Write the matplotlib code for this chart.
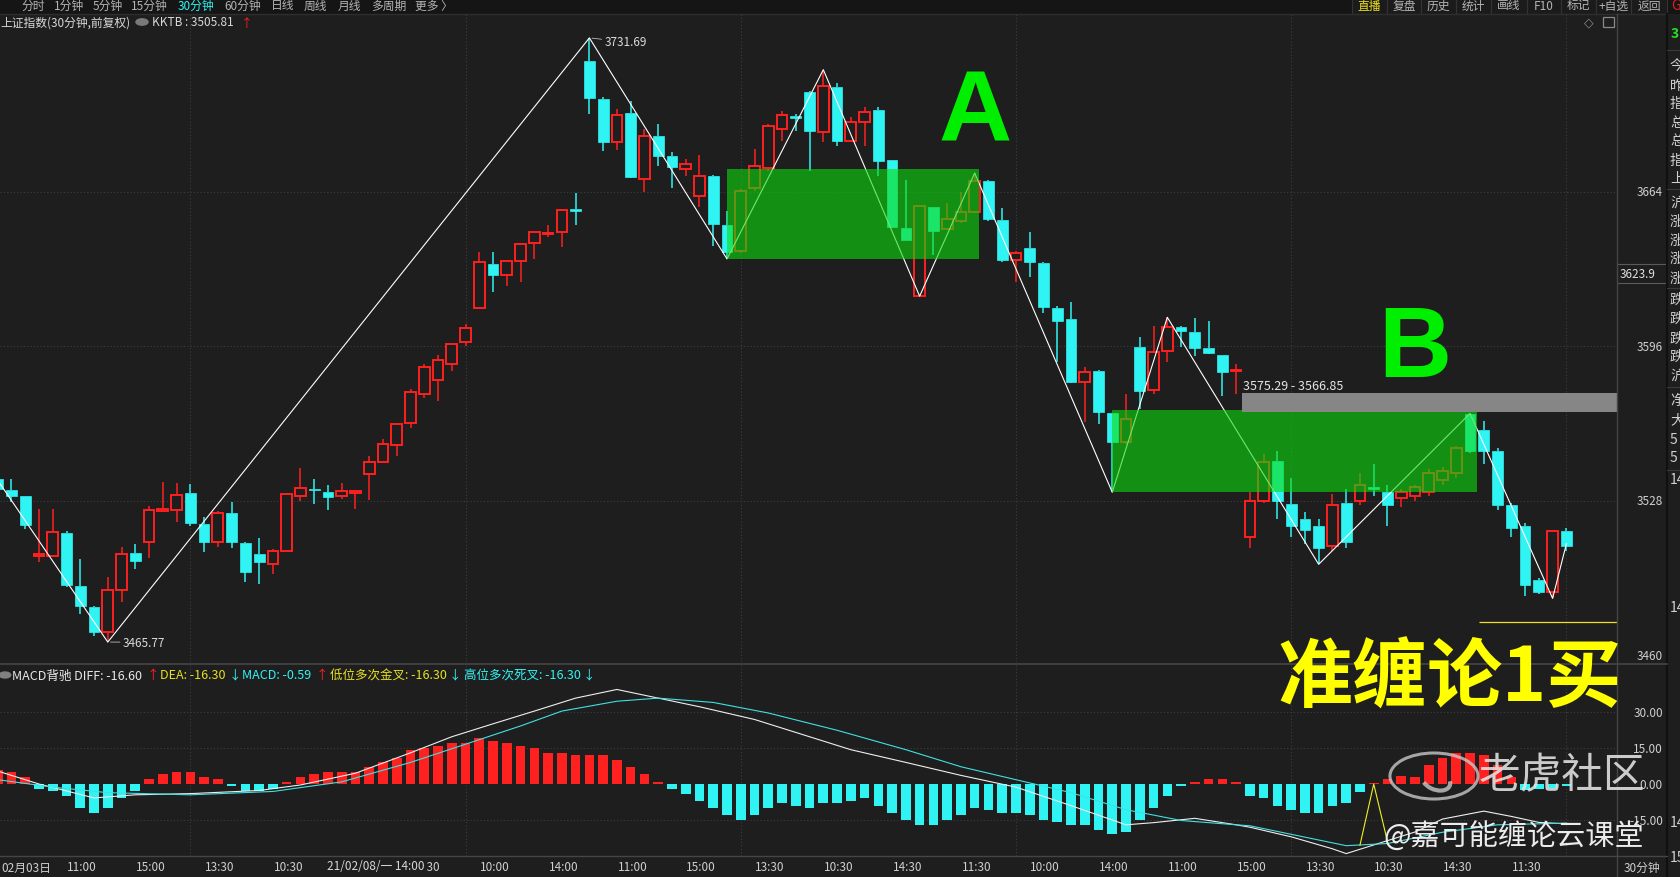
import matplotlib
matplotlib.use('Agg')
import matplotlib.pyplot as plt
from matplotlib import font_manager
from matplotlib.patches import Rectangle, Circle, Arc
from matplotlib.lines import Line2D
from matplotlib.transforms import blended_transform_factory

plt.rcParams['font.family'] = ['Noto Sans CJK SC', 'DejaVu Sans']

# 30-minute bars
opens = [3537.6, 3532.9, 3529.9, 3503.5, 3503.8, 3513.8, 3490.6, 3481.1, 3470.1, 3488.8,
         3505.0, 3509.7, 3523.6, 3524.1, 3531.4, 3517.8, 3510.0, 3522.6, 3509.4, 3504.5,
         3500.1, 3506.0, 3530.2, 3533.0, 3532.0, 3529.9, 3531.6, 3539.8, 3544.9, 3552.5,
         3562.0, 3575.0, 3581.0, 3588.0, 3597.7, 3612.7, 3632.2, 3627.3, 3633.6, 3641.4,
         3645.5, 3646.1, 3656.2, 3721.7, 3704.8, 3686.0, 3698.6, 3669.6, 3688.4, 3679.6,
         3674.0, 3662.3, 3671.0, 3649.3, 3638.0, 3665.5, 3674.3, 3691.6, 3697.5, 3708.0,
         3690.4, 3710.2, 3686.5, 3694.8, 3700.0, 3678.0, 3647.9, 3618.0, 3657.1, 3647.6,
         3651.2, 3655.2, 3668.8, 3651.7, 3634.1, 3639.0, 3632.5, 3612.8, 3608.0, 3580.4,
         3585.2, 3566.6, 3554.0, 3595.5, 3576.9, 3594.0, 3604.3, 3602.1, 3595.1, 3592.1,
         3585.0, 3512.0, 3528.0, 3545.6, 3526.5, 3520.0, 3517.0, 3508.0, 3527.0, 3528.0,
         3534.0, 3532.0, 3529.0, 3530.0, 3532.0, 3537.0, 3540.0, 3566.0, 3559.0, 3550.0,
         3526.0, 3517.0, 3493.0, 3488.0, 3514.7]
highs = [3538.5, 3537.6, 3530.2, 3524.4, 3524.4, 3514.8, 3502.3, 3481.5, 3494.3, 3507.5,
         3508.9, 3525.8, 3536.1, 3535.7, 3535.4, 3520.7, 3523.6, 3527.3, 3509.8, 3511.4,
         3506.7, 3531.2, 3542.3, 3537.6, 3534.9, 3535.8, 3532.5, 3547.8, 3555.2, 3562.0,
         3577.0, 3588.0, 3592.0, 3597.5, 3605.8, 3637.6, 3637.6, 3634.0, 3641.5, 3646.8,
         3649.3, 3656.0, 3663.4, 3731.69, 3705.5, 3700.4, 3704.0, 3691.6, 3693.8, 3681.3,
         3678.4, 3680.1, 3671.2, 3655.3, 3665.0, 3682.8, 3693.8, 3699.7, 3698.0, 3708.2,
         3717.7, 3711.8, 3696.7, 3701.1, 3701.1, 3678.0, 3669.3, 3658.0, 3657.3, 3659.0,
         3664.0, 3672.2, 3669.0, 3656.7, 3638.0, 3646.1, 3633.0, 3613.9, 3615.3, 3586.7,
         3585.5, 3566.8, 3575.0, 3599.9, 3605.0, 3608.7, 3605.0, 3608.3, 3607.2, 3592.3,
         3588.2, 3531.7, 3548.6, 3550.0, 3537.9, 3523.0, 3520.0, 3531.0, 3533.0, 3540.0,
         3544.0, 3535.0, 3533.0, 3535.0, 3542.0, 3543.0, 3552.0, 3566.4, 3563.0, 3551.0,
         3527.0, 3518.0, 3494.0, 3515.0, 3516.0]
lows = [3530.0, 3527.3, 3515.5, 3500.9, 3503.5, 3489.9, 3478.1, 3468.3, 3465.77, 3483.3,
        3497.9, 3502.6, 3523.5, 3518.8, 3516.7, 3505.3, 3507.5, 3507.0, 3492.4, 3491.3,
        3495.7, 3505.8, 3528.0, 3526.6, 3524.0, 3528.8, 3524.4, 3528.5, 3544.5, 3547.8,
        3560.0, 3573.0, 3572.0, 3585.0, 3596.0, 3612.5, 3619.7, 3622.6, 3624.4, 3634.4,
        3643.9, 3639.5, 3649.3, 3698.2, 3682.0, 3682.5, 3669.9, 3664.0, 3675.2, 3665.5,
        3671.0, 3657.1, 3640.0, 3634.4, 3637.0, 3664.5, 3673.0, 3686.5, 3690.9, 3673.3,
        3685.7, 3684.3, 3686.0, 3684.0, 3670.8, 3648.0, 3642.9, 3618.0, 3636.1, 3647.0,
        3650.0, 3655.0, 3651.0, 3633.2, 3624.1, 3626.3, 3610.6, 3588.9, 3580.0, 3562.5,
        3561.8, 3531.7, 3553.0, 3568.4, 3575.0, 3588.9, 3595.5, 3591.5, 3592.5, 3574.2,
        3574.9, 3507.0, 3527.0, 3520.0, 3512.0, 3509.0, 3500.0, 3506.0, 3507.0, 3526.0,
        3530.0, 3517.0, 3525.0, 3528.0, 3530.0, 3535.0, 3538.0, 3549.0, 3544.0, 3524.0,
        3512.0, 3486.0, 3487.0, 3485.0, 3506.0]
closes = [3533.2, 3530.2, 3517.3, 3504.5, 3514.1, 3490.9, 3481.5, 3470.1, 3488.8, 3504.5,
          3501.6, 3524.1, 3524.5, 3530.5, 3518.2, 3510.0, 3522.6, 3509.7, 3496.5, 3501.2,
          3506.0, 3531.0, 3533.4, 3532.5, 3529.8, 3532.4, 3532.3, 3544.9, 3553.0, 3561.8,
          3576.0, 3587.0, 3590.0, 3597.0, 3603.9, 3632.9, 3627.3, 3633.6, 3641.0, 3646.1,
          3646.0, 3655.9, 3655.5, 3705.1, 3686.0, 3697.8, 3670.3, 3688.7, 3679.9, 3674.7,
          3676.2, 3671.0, 3649.8, 3637.3, 3664.4, 3675.2, 3692.8, 3697.7, 3696.5, 3690.9,
          3710.4, 3686.5, 3694.8, 3699.2, 3677.6, 3648.3, 3642.9, 3657.6, 3646.8, 3652.0,
          3655.2, 3668.8, 3652.0, 3634.1, 3637.0, 3633.2, 3613.1, 3607.2, 3580.1, 3584.8,
          3566.9, 3554.0, 3564.0, 3576.4, 3593.6, 3604.3, 3602.8, 3595.1, 3592.9, 3584.5,
          3585.5, 3528.0, 3545.0, 3528.0, 3517.0, 3515.0, 3507.0, 3526.0, 3510.0, 3535.0,
          3533.0, 3526.0, 3532.0, 3534.0, 3540.0, 3541.0, 3551.0, 3550.0, 3550.0, 3526.0,
          3516.0, 3491.0, 3488.0, 3514.7, 3508.0]

# zigzag (bi) turning points
zz_bars = [0, 8, 43, 53, 60, 67, 71, 81, 85, 96, 107, 113, 114]
zz_prices = [3537.0, 3465.77, 3731.69, 3634.4, 3717.7, 3618.0, 3672.2, 3531.7,
             3608.7, 3500.0, 3566.4, 3485.0, 3509.0]

# zhongshu boxes: start bar, end bar, low, high
box_a = (53.0, 71.3, 3634.4, 3674.0)
box_b = (81.0, 107.5, 3531.7, 3568.0)
gray_band = (90.4, 3566.85, 3575.29)
buy_line = (107.65, 3474.6)

macd_hist = [6, 5, 3, -2, -3, -5, -10, -12, -10, -6,
             -3, 2, 4, 5, 5, 3, 2, -1, -3, -3,
             -2, 1, 3, 4, 5, 5, 5, 7, 9, 11,
             14, 15, 16, 17, 17, 19, 18, 17, 16, 15,
             13, 13, 12, 12, 12, 10, 7, 4, 1, -2,
             -4, -7, -10, -13, -15, -13, -10, -8, -9, -10,
             -8, -8, -7, -6, -9, -12, -15, -17, -17, -15,
             -13, -10, -11, -12, -12, -13, -15, -16, -17, -17,
             -19, -21, -20, -15, -10, -5, -1, 1, 2, 2,
             1, -5, -6, -9, -11, -12, -12, -9, -8, -3.5,
             0.3, 2, 3.5, 3, 8, 11, 13, 13, 12, 8,
             3, -2.5, -2, -1.5, -1]
diff_bars = [0, 3, 7, 10, 14, 19, 22, 26, 30, 33, 36, 39, 42, 45, 48, 51, 55, 59, 62,
             66, 70, 74, 78, 82, 84, 87, 90, 91, 94, 97, 98, 100, 103, 105, 108, 110, 112, 114]
diff_vals = [5.4, 0.0, -5.8, -4.5, -4.0, -2.7, -0.4, 4.5, 13.0, 19.7, 25.1, 30.4, 35.8,
             39.4, 35.8, 32.2, 26.9, 19.7, 14.3, 9.0, 3.6, -1.3, -9.0, -17.0, -16.1,
             -14.3, -17.0, -18.0, -22.0, -27.0, -29.0, -25.4, -20.0, -14.6, -11.3,
             -13.5, -16.0, -16.6]
dea_bars = [0, 4, 8, 14, 20, 25, 30, 34, 38, 41, 45, 48, 52, 56, 61, 66, 70, 74, 78,
            82, 86, 90, 91, 98, 101, 105, 109, 114]
dea_vals = [1.8, -1.3, -3.6, -4.5, -3.1, 0.9, 9.0, 16.6, 24.2, 30.4, 34.5, 35.8, 34.0,
            29.6, 22.4, 14.3, 7.2, 1.8, -3.6, -10.7, -15.2, -17.0, -17.4, -25.7,
            -24.8, -20.1, -17.0, -16.3]
cross_bars = [99, 100, 101]
cross_vals = [-25.5, 0.0, -24.0]

price_ticks = [3664, 3596, 3528, 3460]
macd_ticks = [30, 15, 0, -15]
time_labels = ['11:00', '15:00', '13:30', '10:30', '14:30', '11:30', '10:00', '14:00',
               '11:00', '15:00', '13:30', '10:30', '14:30', '11:30', '10:00', '14:00',
               '11:00', '15:00', '13:30', '10:30', '14:30', '11:30']
sidebar = ['今', '昨', '指', '总', '总', '指', '上', '沪', '涨', '涨', '涨', '涨',
           '跌', '跌', '跌', '跌', '沪', '净', '大', '5', '5', '14', '14', '14', '15']
sidebar_y = [66, 86, 104, 123, 141, 161, 179, 203, 222, 241, 259, 279,
             300, 319, 339, 357, 376, 401, 420, 440, 458, 480, 608, 823, 858]

W, H = 1681, 878
BG = '#1e1e1e'
RED = '#ff2020'
CYAN = '#30f4f4'
GRID = '#3e3e3e'
LINE = '#454545'

_names = {f.name for f in font_manager.fontManager.ttflist}
LETTER_FONT = 'Liberation Sans Narrow' if 'Liberation Sans Narrow' in _names else 'Liberation Sans'


def fx(x):
    return x / W


def fy(y):
    return 1 - y / H


def fig_line(fig, xs, ys, **kw):
    fig.add_artist(Line2D([fx(v) for v in xs], [fy(v) for v in ys],
                          transform=fig.transFigure, **kw))


def draw_candles(ax):
    bw = 0.78
    for i, (o, h, l, c) in enumerate(zip(opens, highs, lows, closes)):
        col = RED if c >= o else CYAN
        lo_b, hi_b = min(o, c), max(o, c)
        ax.vlines(i, l, lo_b, color=col, lw=1.1, zorder=3)
        ax.vlines(i, hi_b, h, color=col, lw=1.1, zorder=3)
        hgt = max(hi_b - lo_b, 0.3)
        if c >= o:
            ax.add_patch(Rectangle((i - bw / 2, lo_b), bw, hgt, facecolor=BG,
                                   edgecolor=col, lw=1.4, zorder=3))
        else:
            ax.add_patch(Rectangle((i - bw / 2, lo_b), bw, hgt, facecolor=col,
                                   edgecolor=col, lw=0.5, zorder=3))


def draw_main(fig, ax):
    ax.set_xlim(0.167, 117.68)
    ax.set_ylim(3457.0, 3742.2)
    ax.axis('off')
    for p in price_ticks[:3]:
        ax.axhline(p, color=GRID, lw=0.8, ls=(0, (1, 2)), zorder=1)
    for b in range(14, 118, 20):
        ax.axvline(b, color=GRID, lw=0.8, ls=(0, (1, 2)), zorder=1)

    draw_candles(ax)
    ax.plot(zz_bars, zz_prices, color='white', lw=0.8, zorder=3.5)

    green = (12 / 255, 220 / 255, 12 / 255)
    for x0, x1, p0, p1 in (box_a, box_b):
        ax.add_patch(Rectangle((x0, p0), x1 - x0, p1 - p0, facecolor=green,
                               alpha=0.6, edgecolor='none', zorder=4))
    gx, g0, g1 = gray_band
    ax.add_patch(Rectangle((gx, g0), 117.68 - gx, g1 - g0, facecolor='#868686',
                           edgecolor='none', zorder=5))
    ax.text(gx + 0.1, g1 + 3.6, f'{g1:.2f} - {g0:.2f}', color='#e6e6e6',
            fontsize=9, va='center', ha='left', zorder=6)
    ax.hlines(buy_line[1], buy_line[0], 117.68, color='#f0e020', lw=0.9, zorder=5)

    ax.annotate(f'{max(highs):.2f}', xy=(43, max(highs)), xytext=(15, -4),
                textcoords='offset pixels', color='#dcdcdc', fontsize=8.5,
                va='center', ha='left',
                arrowprops=dict(arrowstyle='-', color='#bbbbbb', lw=0.6,
                                shrinkA=0, shrinkB=2))
    ax.annotate(f'{min(lows):.2f}', xy=(8, min(lows)), xytext=(15, 0),
                textcoords='offset pixels', color='#dcdcdc', fontsize=8.5,
                va='center', ha='left',
                arrowprops=dict(arrowstyle='-', color='#bbbbbb', lw=0.6,
                                shrinkA=0, shrinkB=2))

    big = dict(color='#00ee00', fontsize=73, fontweight='bold', ha='center',
               va='baseline', family=[LETTER_FONT, 'DejaVu Sans'], zorder=7)
    fig.text(fx(975), fy(142), 'A', **big)
    fig.text(fx(1415), fy(377), 'B', **big)

    tr = blended_transform_factory(ax.transAxes, ax.transData)
    for p in price_ticks:
        ax.text(1 + 46 / 1617, p, str(p), transform=tr, ha='right', va='center',
                color='#d0d0d0', fontsize=8.5, clip_on=False)


def draw_macd(fig, ax2):
    ax2.set_xlim(0.167, 117.68)
    ax2.set_ylim(-30.0, 49.6)
    ax2.axis('off')
    for v in (30, 15, -15):
        ax2.axhline(v, color=GRID, lw=0.8, ls=(0, (1, 2)), zorder=1)
    for b in range(14, 118, 20):
        ax2.axvline(b, color=GRID, lw=0.8, ls=(0, (1, 2)), zorder=1)
    cols = [RED if v > 0 else CYAN for v in macd_hist]
    ax2.bar(range(len(macd_hist)), macd_hist, width=0.7, color=cols, zorder=2)
    ax2.plot(diff_bars, diff_vals, color='#eeeeee', lw=0.8, zorder=3)
    ax2.plot(dea_bars, dea_vals, color='#40e0e0', lw=0.8, zorder=3)
    ax2.plot(cross_bars, cross_vals, color='#f0f020', lw=0.8, zorder=3)

    tr = blended_transform_factory(ax2.transAxes, ax2.transData)
    for v in macd_ticks:
        ax2.text(1 + 46 / 1617, v, f'{v:.2f}', transform=tr, ha='right',
                 va='center', color='#d0d0d0', fontsize=8.5, clip_on=False)

    trx = blended_transform_factory(ax2.transData, fig.transFigure)
    for k, lab in enumerate(time_labels):
        if k == 4:
            continue  # hidden under the crosshair date box
        ax2.text(5 * (k + 1) + 0.05, fy(868), lab, transform=trx, ha='left',
                 va='center', color='#d0d0d0', fontsize=8.5, clip_on=False)
    fig.text(fx(1), fy(868), '02月03日', ha='left', va='center', color='#d0d0d0',
             fontsize=8.5)
    ax2.text(23.95, fy(867), '21/02/08/一 14:00', transform=trx, ha='left',
             va='center', color='#d8d8d8', fontsize=8.5, clip_on=False, zorder=6,
             bbox=dict(facecolor=BG, edgecolor='none', pad=1.5))

    # MACD header
    fig.add_artist(Circle((fx(5), fy(676)), 0.0034, transform=fig.transFigure,
                          color='#808080'))
    hdr = [(12, 'MACD背驰 DIFF: -16.60', '#e8e8e8'), (147, '↑', RED),
           (160, 'DEA: -16.30', '#e8e020'), (229, '↓', CYAN),
           (242, 'MACD: -0.59', CYAN), (316, '↑', RED),
           (330, '低位多次金叉: -16.30', '#e8e020'), (449, '↓', CYAN),
           (464, '高位多次死叉: -16.30', CYAN), (583, '↓', CYAN)]
    for x, s, c in hdr:
        fig.text(fx(x), fy(676), s, color=c, fontsize=9, ha='left', va='center')

    fig.text(fx(1450), fy(680), '准缠论1买', color='#ffff00', fontsize=54,
             fontweight='bold', ha='center', va='center', zorder=8)
    fig.add_artist(Circle((fx(1434), fy(777)), 23 / H, transform=fig.transFigure,
                          facecolor='none', edgecolor='#c8c8c8', lw=2.2, alpha=0.8))
    fig.add_artist(Arc((fx(1436), fy(781)), 26 / W, 22 / H, angle=20, theta1=180,
                       theta2=330, transform=fig.transFigure, color='#c8c8c8',
                       lw=3, alpha=0.8))
    fig.text(fx(1562), fy(777), '老虎社区', color='#e4e4e4', fontsize=30,
             ha='center', va='center', alpha=0.88, zorder=8)
    fig.text(fx(1514), fy(838), '@嘉可能缠论云课堂', color='#ececec', fontsize=21,
             ha='center', va='center', zorder=8)


def draw_chrome(fig):
    fig.patches.append(Rectangle((0, fy(15)), 1, 15 / H, transform=fig.transFigure,
                                 facecolor='#151515', edgecolor='none'))
    tools = [('分时', 21), ('1分钟', 54), ('5分钟', 93), ('15分钟', 131),
             ('30分钟', 178), ('60分钟', 224), ('日线', 271), ('周线', 304),
             ('月线', 338), ('多周期', 371), ('更多 〉', 415)]
    for s, x in tools:
        c = CYAN if s == '30分钟' else '#b4b4b4'
        fig.text(fx(x), fy(6), s, color=c, fontsize=8.5, ha='left', va='center')
    edges = [1352, 1387, 1421, 1456, 1491, 1527, 1561, 1596, 1631, 1667]
    btns = ['直播', '复盘', '历史', '统计', '画线', 'F10', '标记', '+自选', '返回']
    for k, s in enumerate(btns):
        x0, x1 = edges[k], edges[k + 1]
        fig.patches.append(Rectangle((fx(x0), fy(15)), (x1 - x0) / W, 15 / H,
                                     transform=fig.transFigure, facecolor='#1b1b1b',
                                     edgecolor='#333333', lw=0.8))
        c = '#f0e020' if s == '直播' else '#b4b4b4'
        fig.text(fx((x0 + x1) / 2), fy(6), s, color=c, fontsize=8.5,
                 ha='center', va='center')
    fig.text(fx(1671), fy(6), 'G', color='#e02020', fontsize=10, ha='left', va='center')
    fig.text(fx(1671), fy(34), '3', color='#20e020', fontsize=10, ha='left',
             va='center', fontweight='bold')

    fig.text(fx(0), fy(23), '上证指数(30分钟,前复权)', color='#d8d8d8', fontsize=8.5,
             ha='left', va='center')
    fig.add_artist(Circle((fx(142), fy(23)), 0.0036, transform=fig.transFigure,
                          color='#7a7a7a'))
    fig.text(fx(152), fy(23), 'KKTB : 3505.81', color='#d8d8d8', fontsize=8.5,
             ha='left', va='center')
    fig.text(fx(241), fy(23), '↑', color=RED, fontsize=8.5, ha='left', va='center')
    fig.text(fx(1589), fy(23), '◇', color='#8a8a8a', fontsize=9, ha='center',
             va='center', family=['DejaVu Sans'])
    fig.patches.append(Rectangle((fx(1603), fy(28)), 11 / W, 10 / H,
                                 transform=fig.transFigure, facecolor='none',
                                 edgecolor='#8a8a8a', lw=0.9))

    # frame lines
    fig_line(fig, [0, 1667], [15, 15], color='#2e2e2e', lw=1)
    fig_line(fig, [1617, 1617], [15, 878], color=LINE, lw=1)
    fig_line(fig, [1667, 1667], [15, 878], color='#101010', lw=1.5)
    fig_line(fig, [0, 1667], [665, 665], color=LINE, lw=1.2)
    fig_line(fig, [0, 1667], [857, 857], color=LINE, lw=1)
    for y in (51, 190, 289, 388, 471):
        fig_line(fig, [1667, 1681], [y, y], color='#3a3a3a', lw=0.8)

    fig.patches.append(Rectangle((fx(1617), fy(284)), 50 / W, 19 / H,
                                 transform=fig.transFigure, facecolor=BG,
                                 edgecolor='#5a5a5a', lw=0.8))
    fig.text(fx(1620), fy(274.5), '3623.9', color='#e0e0e0', fontsize=8.5,
             ha='left', va='center')
    fig.text(fx(1642), fy(868), '30分钟', color='#d0d0d0', fontsize=8.5,
             ha='center', va='center')

    for s, y in zip(sidebar, sidebar_y):
        fig.text(fx(1670), fy(y), s, color='#d0d0d0', fontsize=10, ha='left',
                 va='center')


if __name__ == '__main__':
    fig = plt.figure(figsize=(W / 100, H / 100), dpi=100, facecolor=BG)
    ax = fig.add_axes([0, fy(663), fx(1617), (663 - 15) / H])
    ax2 = fig.add_axes([0, fy(857), fx(1617), (857 - 666) / H])
    draw_main(fig, ax)
    draw_macd(fig, ax2)
    draw_chrome(fig)
    fig.savefig('out.png', dpi=100, facecolor=BG)
